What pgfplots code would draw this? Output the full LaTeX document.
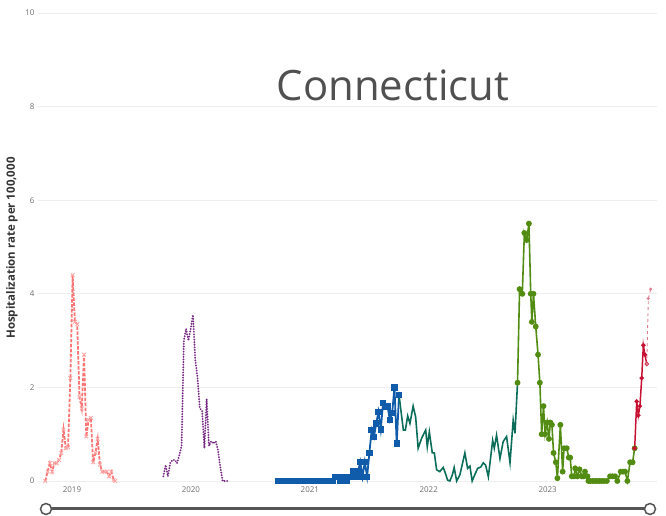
\documentclass[border=0pt]{standalone}
\usepackage{fontspec}
\setmainfont{Open Sans}
\usepackage{pgfplots}
\pgfplotsset{compat=1.18}
\definecolor{gridc}{RGB}{238,238,238}
\definecolor{tickc}{RGB}{110,110,110}
\definecolor{titlec}{RGB}{80,80,80}
\definecolor{pinkc}{RGB}{252,118,118}
\definecolor{pinkm}{RGB}{252,165,165}
\definecolor{purplec}{RGB}{118,42,131}
\definecolor{bluec}{RGB}{16,92,170}
\definecolor{tealc}{RGB}{12,110,90}
\definecolor{olivec}{RGB}{82,140,18}
\definecolor{crimsonc}{RGB}{200,16,50}
\definecolor{sliderc}{RGB}{85,85,85}
\begin{document}
\begin{tikzpicture}
\useasboundingbox (0,0) rectangle (666bp,516bp);
\begin{axis}[
  at={(38bp,35bp)}, anchor=south west,
  scale only axis, width=619bp, height=468bp,
  xmin=-14.9, xmax=256.7, ymin=0, ymax=10,
  clip=false,
  axis line style={draw=none},
  tick style={draw=none},
  ytick={0,2,4,6,8,10},
  ymajorgrids,
  grid style={color=gridc, line width=0.8pt},
  xtick={0,52.18,104.36,156.54,208.71},
  xticklabels={2019,2020,2021,2022,2023},
  tick label style={font=\fontsize{8}{9}\selectfont, text=tickc},
  xticklabel style={yshift=-2bp},
  /pgf/number format/assume math mode=true,
]
% 2018-19 season
\addplot[color=pinkc, dash pattern=on 3.5pt off 1.5pt, line width=1.8pt, mark=x, mark size=2.6pt,
  mark options={solid, color=pinkm, line width=0.9pt}] coordinates {
(-11.7,0) (-10.7,0.2) (-9.7,0.38) (-8.7,0.2) (-7.7,0.38) (-6.7,0.38)
(-5.7,0.45) (-4.7,0.6) (-3.7,1.1) (-2.7,0.7) (-1.7,0.72) (-0.7,2.2)
(0.3,4.4) (1.3,3.4) (2.3,3.35) (3.3,1.8) (4.3,1.55) (5.3,2.7)
(6.3,0.95) (7.3,1.3) (8.3,1.35) (9.3,0.4) (10.3,0.6) (11.3,0.9)
(12.3,0.35) (13.3,0.2) (14.3,0.2) (15.3,0.2) (16.3,0.1) (17.3,0.2)
(18.3,0.02) (19.0,0)
};
% 2019-20 season
\addplot[color=purplec, dash pattern=on 0.01pt off 2.6pt, line cap=round, line width=2.1pt, mark=none] coordinates {
(40.1,0.1) (41.1,0.34) (42.1,0.1) (43.1,0.38) (44.1,0.45) (45.1,0.45)
(46.1,0.38) (47.1,0.55) (48.1,0.75) (49.1,3.0) (50.1,3.25) (51.1,3.0)
(52.1,3.25) (53.1,3.55) (54.1,2.6) (55.1,2.2) (56.1,1.55) (57.1,1.5)
(58.1,0.7) (59.1,1.75) (60.1,0.75) (61.1,0.85) (62.1,0.8) (63.1,0.85)
(64.1,0.65) (65.1,0.3) (66.1,0.0) (67.1,0) (68.1,0)
};
% 2020-21 season
\addplot[color=bluec, line width=1.8pt, mark=square*, mark size=2.3pt] coordinates {
(90.5,0) (91.5,0) (92.5,0) (93.5,0) (94.5,0) (95.5,0) (96.5,0) (97.5,0)
(98.5,0) (99.5,0) (100.5,0) (101.5,0) (102.5,0) (103.5,0) (104.5,0)
(105.5,0) (106.5,0) (107.5,0) (108.5,0) (109.5,0) (110.5,0) (111.5,0)
(112.5,0) (113.5,0) (114.5,0)
(115.5,0.09) (116.5,0.09) (117.5,0) (118.5,0.09) (119.5,0.09) (120.5,0)
(121.5,0.09) (122.5,0.09) (123.5,0.2) (124.5,0.09) (125.5,0.2) (126.5,0.41)
(127.5,0.09) (128.5,0.41) (129.5,0.09) (130.5,0.6) (131.5,1.09) (132.5,0.94)
(133.5,1.23) (134.5,1.48) (135.5,1.1) (136.5,1.67) (137.5,1.59) (138.5,1.59)
(139.5,1.3) (140.5,1.45) (141.5,2.0) (142.5,0.8) (143.5,1.84)
};
% 2021-22 season
\addplot[color=tealc, line width=1.6pt, mark=none] coordinates {
(143.5,1.84) (145.4,1.09) (146.3,1.09) (147.3,1.39) (148.3,1.23) (149.7,1.6)
(150.8,1.37) (151.9,0.70) (153.4,0.91) (155.2,1.09) (155.9,0.73) (156.8,1.05)
(158.1,0.6) (159.0,0.6) (160.0,0.24) (161.4,0.2) (162.9,0.29) (163.9,0.16)
(164.8,0.02) (165.8,0) (166.9,0.13) (167.7,0.29) (168.8,0) (170.2,0.13)
(172.4,0.6) (173.6,0.27) (174.6,0.32) (175.6,0) (176.8,0.14) (178.0,0.27)
(179.4,0.3) (180.5,0.39) (181.5,0.34) (182.7,0.09) (184.6,0.87) (185.3,0.70)
(186.3,0.98) (187.8,0.48) (189.2,0.84) (190.7,0.95) (192.2,0.39) (193.6,1.30)
(194.4,1.02) (195.5,2.1)
};
% 2022-23 season
\addplot[color=olivec, line width=1.6pt, mark=*, mark size=2.1pt] coordinates {
(195.5,2.1) (196.4,4.1) (197.6,4.0) (198.5,5.3) (199.5,5.15) (200.5,5.5)
(201.3,4.0) (201.8,3.4) (202.5,4.0) (203.5,3.3) (204.5,2.7) (205.3,2.1)
(206.1,1.0) (206.9,1.6) (207.6,1.0) (208.5,1.25) (209.3,0.9) (209.9,1.25)
(210.6,1.2) (211.3,0.6) (212.3,0.4) (213.0,0.06) (214.3,1.2) (215.3,0.2)
(215.9,0.7) (217.1,0.7) (218.0,0.5) (218.6,0.5) (219.3,0.1) (220.3,0.1)
(220.8,0.27) (221.8,0.1) (222.7,0.25) (223.7,0.1) (224.5,0.1) (225.1,0.2)
(226.2,0.1) (226.6,0) (227.5,0) (228.5,0) (229.5,0) (230.5,0) (231.5,0)
(232.5,0) (233.5,0) (234.7,0) (236.1,0.1) (237.2,0.1) (238.3,0.1)
(239.3,0) (240.8,0.2) (241.8,0.2) (242.7,0.2) (243.7,0) (244.9,0.4)
(246.0,0.4) (246.9,0.7)
};
% 2023-24 season
\addplot[color=crimsonc, line width=1.5pt, mark=*, mark size=1.4pt] coordinates {
(246.9,0.7) (247.8,1.7) (248.5,1.4) (249.2,1.6) (250.0,2.2) (250.7,2.9)
(251.4,2.7) (252.2,2.5)
};
% preliminary
\addplot[color=crimsonc!55, dashed, line width=0.9pt, mark=*, mark size=1.0pt,
  mark options={solid}] coordinates {
(252.2,2.5) (252.9,3.9) (253.9,4.1)
};
\end{axis}
\node[text=titlec, font=\fontsize{42}{48}\selectfont] at (393bp,431bp) {Connecticut};
\node[rotate=90, text=black!80, font=\fontsize{11.5}{13}\selectfont\bfseries] at (12bp,268bp) {Hospitalization rate per 100,000};
\draw[line width=3bp, color=sliderc] (46bp,7bp) -- (650bp,7bp);
\draw[line width=1.5bp, color=sliderc, fill=white] (46bp,7bp) circle (5.5bp);
\draw[line width=1.5bp, color=sliderc, fill=white] (650bp,7bp) circle (5.5bp);
\end{tikzpicture}
\end{document}
